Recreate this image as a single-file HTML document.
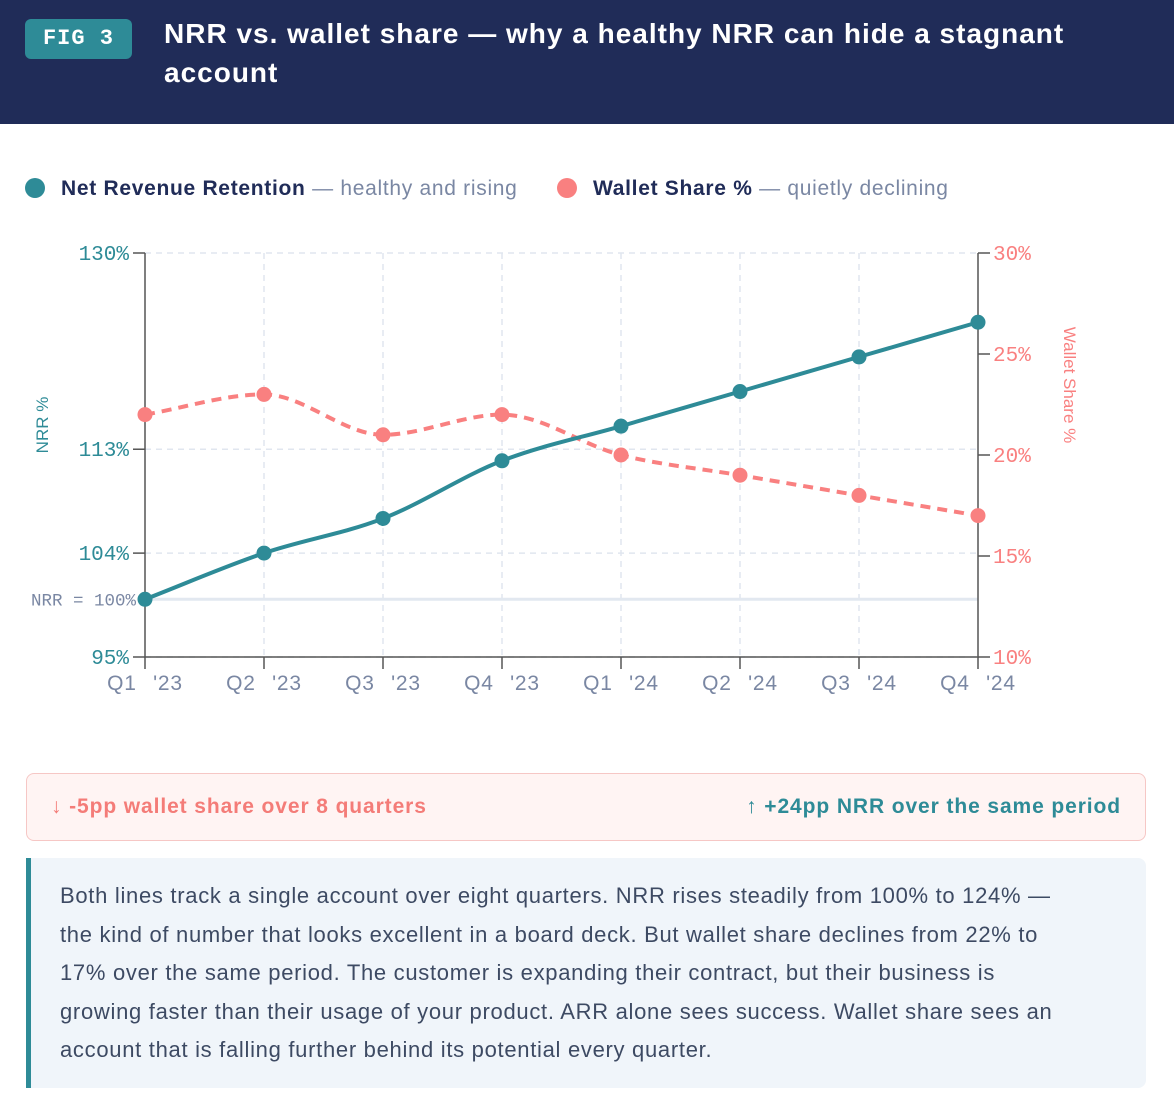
<!DOCTYPE html>
<html><head><meta charset="utf-8">
<style>
body{margin:0;width:1174px;height:1110px;background:#fff;font-family:"Liberation Sans",sans-serif;overflow:hidden;position:relative}
.hdr{position:absolute;left:0;top:0;width:1174px;height:124px;background:#202c58}
.badge{position:absolute;left:25px;top:19px;width:107px;height:40px;background:#2e8b97;border-radius:6px;color:#fff;font-family:"Liberation Mono",monospace;font-size:22px;font-weight:bold;line-height:40px;text-align:center;letter-spacing:1px}
.title{position:absolute;left:164px;top:14px;width:940px;color:#fff;font-size:28px;font-weight:bold;line-height:39px;letter-spacing:1px}
.legend{position:absolute;top:175px;font-size:21px;color:#202c58;line-height:28px;letter-spacing:0.7px}
.dot{display:inline-block;width:20px;height:20px;border-radius:50%;vertical-align:-3px;margin-right:16px}
.sub{color:#7a87a3;font-weight:normal}
.stat{position:absolute;left:26px;top:773px;width:1118px;height:66px;border:1.5px solid #f6c7c5;background:#fff4f3;border-radius:8px;font-size:21px;font-weight:bold;line-height:66px;letter-spacing:0.9px}
.note{position:absolute;left:26px;top:858px;width:1120px;height:230px;background:#f0f5fa;border-left:5px solid #2e8b97;border-radius:0 8px 8px 0;padding:19px 10px 0 29px;box-sizing:border-box;font-size:22px;line-height:38.5px;color:#3d4a63;letter-spacing:0.7px;white-space:nowrap}
</style></head><body>
<div class="hdr">
<div class="badge">FIG 3</div>
<div class="title">NRR vs. wallet share — why a healthy NRR can hide a stagnant account</div>
</div>
<div class="legend" style="left:25px"><span class="dot" style="background:#2e8b97"></span><b>Net Revenue Retention</b> <span class="sub">— healthy and rising</span></div>
<div class="legend" style="left:557px"><span class="dot" style="background:#f98080"></span><b>Wallet Share %</b> <span class="sub">— quietly declining</span></div>
<svg id="chart" width="1174" height="720" style="position:absolute;left:0;top:0"></svg>
<div class="stat">
<span style="position:absolute;left:24px;color:#f47c78">↓ -5pp wallet share over 8 quarters</span>
<span style="position:absolute;right:24px;color:#2e8b97">↑ +24pp NRR over the same period</span>
</div>
<div class="note">Both lines track a single account over eight quarters. NRR rises steadily from 100% to 124% —<br>the kind of number that looks excellent in a board deck. But wallet share declines from 22% to<br>17% over the same period. The customer is expanding their contract, but their business is<br>growing faster than their usage of your product. ARR alone sees success. Wallet share sees an<br>account that is falling further behind its potential every quarter.</div>
<script>
const categories=["Q1 '23","Q2 '23","Q3 '23","Q4 '23","Q1 '24","Q2 '24","Q3 '24","Q4 '24"];
const nrrValues=[100,104,107,112,115,118,121,124];
const walletValues=[22,23,21,22,20,19,18,17];
const leftTicks=[95,104,113,130];
const rightTicks=[10,15,20,25,30];
const NS="http://www.w3.org/2000/svg";
const svg=document.getElementById('chart');
const X0=145,X1=978,Y0=657,Y1=253;
const x=i=>X0+i*(X1-X0)/(categories.length-1);
const yL=v=>Y0-(v-95)/(130-95)*(Y0-Y1);
const yR=v=>Y0-(v-10)/(30-10)*(Y0-Y1);
function el(t,a,p){const e=document.createElementNS(NS,t);for(const k in a)e.setAttribute(k,a[k]);(p||svg).appendChild(e);return e;}
function txt(s,a){const e=el('text',a);e.textContent=s;return e;}
const mono='"Liberation Mono",monospace';
categories.forEach((c,i)=>{if(i>0&&i<categories.length-1){const g=el('line',{x1:x(i),x2:x(i),y1:Y1,y2:Y0,stroke:'#e0e6ef','stroke-width':1.5,'stroke-dasharray':'6,5'});}});
leftTicks.forEach(v=>{const g=el('line',{x1:X0,x2:X1,y1:yL(v),y2:yL(v),stroke:'#e0e6ef','stroke-width':1.5,'stroke-dasharray':'6,5'});});
const ref=el('line',{x1:X0,x2:X1,y1:yL(100),y2:yL(100),stroke:'#e2e8f0','stroke-width':3});

const rl=txt('NRR = 100%',{x:X0-9,y:yL(100)+6,'text-anchor':'end','font-family':mono,'font-size':17.5,fill:'#7a87a3'});

const ax=el('path',{d:`M${X0},${Y1}V${Y0}H${X1}V${Y1}`,stroke:'#555',fill:'none','stroke-width':1.5});

leftTicks.forEach(v=>{el('line',{x1:X0-12,x2:X0,y1:yL(v),y2:yL(v),stroke:'#555','stroke-width':1.5});
const t=txt(v+'%',{x:X0-16,y:yL(v)+7,'text-anchor':'end','font-family':mono,'font-size':21,fill:'#2e8b97'});
});
rightTicks.forEach(v=>{el('line',{x1:X1,x2:X1+12,y1:yR(v),y2:yR(v),stroke:'#555','stroke-width':1.5});
const t=txt(v+'%',{x:X1+15,y:yR(v)+7,'font-family':mono,'font-size':21,fill:'#f98080'});
});
categories.forEach((c,i)=>{el('line',{x1:x(i),x2:x(i),y1:Y0,y2:Y0+12,stroke:'#555','stroke-width':1.5});
const t=txt(c.replace(' ','\u2002\u2009'),{x:x(i),y:Y0+33,'text-anchor':'middle','font-size':21,fill:'#7a87a3','letter-spacing':'0.8'});
});
const yt=txt('NRR %',{transform:`translate(48,${(Y0+Y1)/2-30}) rotate(-90)`,'text-anchor':'middle','font-size':17,fill:'#2e8b97'});

const yt2=txt('Wallet Share %',{transform:`translate(1064,${(Y0+Y1)/2-70}) rotate(90)`,'text-anchor':'middle','font-size':17,fill:'#f98080'});

function monotone(p){const n=p.length,d=[],m=[];for(let i=0;i<n-1;i++)d.push((p[i+1][1]-p[i][1])/(p[i+1][0]-p[i][0]));
m[0]=d[0];m[n-1]=d[n-2];for(let i=1;i<n-1;i++){m[i]=d[i-1]*d[i]<=0?0:(d[i-1]+d[i])/2;}
for(let i=0;i<n-1;i++){if(d[i]===0){m[i]=m[i+1]=0;continue;}const a=m[i]/d[i],b=m[i+1]/d[i],s=a*a+b*b;if(s>9){const t=3/Math.sqrt(s);m[i]=t*a*d[i];m[i+1]=t*b*d[i];}}
let s=`M${p[0][0]},${p[0][1]}`;for(let i=0;i<n-1;i++){const h=(p[i+1][0]-p[i][0])/3;s+=`C${p[i][0]+h},${p[i][1]+m[i]*h} ${p[i+1][0]-h},${p[i+1][1]-m[i+1]*h} ${p[i+1][0]},${p[i+1][1]}`;}return s;}
const wp=walletValues.map((v,i)=>[x(i),yR(v)]);
const wl=el('path',{d:monotone(wp),stroke:'#f98080',fill:'none','stroke-width':4,'stroke-dasharray':'10,7'});

const np=nrrValues.map((v,i)=>[x(i),yL(v)]);
const nl=el('path',{d:monotone(np),stroke:'#2e8b97',fill:'none','stroke-width':4});

wp.forEach(p=>{const c=el('circle',{cx:p[0],cy:p[1],r:7.5,fill:'#f98080'});});
np.forEach(p=>{const c=el('circle',{cx:p[0],cy:p[1],r:7.5,fill:'#2e8b97'});});
</script>
</body></html>
